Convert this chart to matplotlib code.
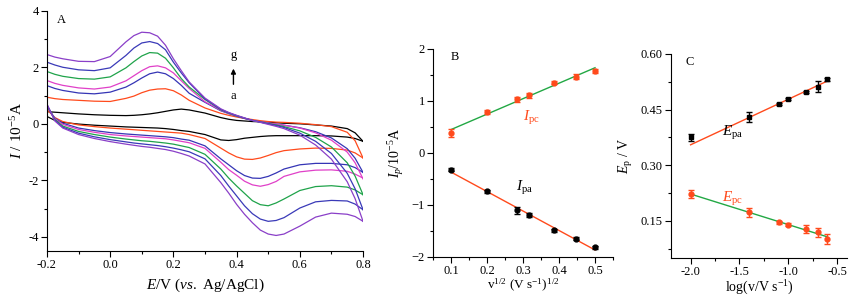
import numpy as np
import matplotlib
matplotlib.use("Agg")
import matplotlib.pyplot as plt
from matplotlib.ticker import MultipleLocator

plt.rcParams['font.family'] = ['Liberation Serif', 'DejaVu Serif']
plt.rcParams['mathtext.fontset'] = 'custom'
plt.rcParams['mathtext.rm'] = 'Liberation Serif'
plt.rcParams['mathtext.it'] = 'Liberation Serif:italic'

# ---------------- Panel A: cyclic voltammograms (a..g) ----------------
E = [-0.200, -0.175, -0.150, -0.100, -0.050, 0.000, 0.050, 0.075, 0.100, 0.125, 0.150,
     0.175, 0.200, 0.225, 0.250, 0.300, 0.350, 0.375, 0.400, 0.425, 0.450, 0.475,
     0.500, 0.525, 0.550, 0.600, 0.650, 0.700, 0.750, 0.775, 0.800]
curve_names = ['a', 'b', 'c', 'd', 'e', 'f', 'g']
curve_colors = ['#000000', '#ff4a1c', '#3535b5', '#e040c8', '#1fa34a', '#3a3ab8', '#8a3fc8']

up_a = [0.43, 0.41, 0.39, 0.35, 0.32, 0.30, 0.29, 0.30, 0.32, 0.35, 0.39, 0.44, 0.49, 0.52, 0.49, 0.38, 0.22, 0.16, 0.12, 0.10, 0.08, 0.07,
        0.05, 0.04, 0.02, 0.00, -0.04, -0.08, -0.17, -0.32, -0.62]
up_b = [0.94, 0.89, 0.86, 0.83, 0.80, 0.79, 0.90, 0.98, 1.10, 1.19, 1.23, 1.24, 1.17, 1.02, 0.83, 0.56, 0.37, 0.30, 0.24, 0.19, 0.15, 0.11,
        0.08, 0.06, 0.05, 0.02, -0.03, -0.10, -0.30, -0.60, -1.21]
up_c = [1.35, 1.25, 1.18, 1.09, 1.06, 1.12, 1.30, 1.45, 1.62, 1.77, 1.83, 1.77, 1.60, 1.36, 1.08, 0.76, 0.46, 0.36, 0.27, 0.19, 0.12, 0.07,
        0.03, -0.01, -0.05, -0.14, -0.28, -0.50, -0.88, -1.22, -1.72]
up_d = [1.53, 1.43, 1.36, 1.27, 1.23, 1.30, 1.52, 1.70, 1.88, 2.02, 2.05, 1.98, 1.80, 1.52, 1.25, 0.78, 0.48, 0.37, 0.28, 0.19, 0.12, 0.07,
        0.03, -0.01, -0.05, -0.15, -0.32, -0.58, -1.00, -1.38, -1.95]
up_e = [1.85, 1.75, 1.68, 1.60, 1.58, 1.66, 1.98, 2.20, 2.40, 2.52, 2.50, 2.32, 1.98, 1.60, 1.30, 0.86, 0.50, 0.38, 0.28, 0.20, 0.12, 0.06,
        0.01, -0.04, -0.10, -0.25, -0.48, -0.82, -1.38, -1.85, -2.51]
up_f = [2.18, 2.08, 2.00, 1.91, 1.88, 1.98, 2.42, 2.68, 2.86, 2.91, 2.84, 2.62, 2.18, 1.80, 1.45, 0.88, 0.51, 0.39, 0.29, 0.20, 0.12, 0.06,
        0.00, -0.06, -0.13, -0.33, -0.62, -1.05, -1.75, -2.30, -3.04]
up_g = [2.45, 2.36, 2.30, 2.21, 2.20, 2.38, 2.90, 3.12, 3.24, 3.22, 3.10, 2.78, 2.30, 1.88, 1.48, 0.91, 0.53, 0.40, 0.30, 0.21, 0.12, 0.05,
        -0.02, -0.09, -0.17, -0.40, -0.75, -1.25, -2.05, -2.65, -3.45]

lo_a = [0.26, 0.12, 0.05, -0.01, -0.05, -0.08, -0.11, -0.12, -0.13, -0.14, -0.15, -0.17, -0.20, -0.24, -0.27, -0.38, -0.57, -0.59, -0.56, -0.51, -0.48, -0.45,
        -0.43, -0.42, -0.42, -0.42, -0.42, -0.43, -0.47, -0.52, -0.62]
lo_b = [0.50, 0.22, 0.08, -0.04, -0.10, -0.15, -0.19, -0.21, -0.23, -0.25, -0.27, -0.29, -0.31, -0.33, -0.38, -0.52, -0.86, -1.03, -1.17, -1.25, -1.26, -1.21,
        -1.12, -1.02, -0.95, -0.89, -0.86, -0.87, -0.93, -1.03, -1.21]
lo_c = [0.60, 0.20, 0.02, -0.15, -0.24, -0.31, -0.36, -0.38, -0.40, -0.42, -0.44, -0.46, -0.49, -0.54, -0.58, -0.78, -1.24, -1.45, -1.66, -1.83, -1.92, -1.93,
        -1.86, -1.74, -1.60, -1.45, -1.40, -1.40, -1.45, -1.55, -1.72]
lo_d = [0.62, 0.18, -0.02, -0.20, -0.30, -0.38, -0.43, -0.45, -0.47, -0.49, -0.51, -0.53, -0.57, -0.62, -0.67, -0.87, -1.36, -1.62, -1.82, -2.03, -2.16, -2.21,
        -2.15, -2.04, -1.86, -1.70, -1.64, -1.63, -1.68, -1.78, -1.92]
lo_e = [0.65, 0.15, -0.08, -0.27, -0.38, -0.47, -0.54, -0.57, -0.60, -0.62, -0.65, -0.68, -0.72, -0.78, -0.84, -1.08, -1.60, -1.92, -2.20, -2.46, -2.72, -2.86,
        -2.90, -2.80, -2.66, -2.36, -2.22, -2.19, -2.24, -2.34, -2.51]
lo_f = [0.68, 0.12, -0.12, -0.33, -0.46, -0.56, -0.64, -0.68, -0.71, -0.74, -0.77, -0.81, -0.86, -0.92, -0.99, -1.24, -1.83, -2.20, -2.55, -2.90, -3.18, -3.37,
        -3.45, -3.42, -3.32, -2.98, -2.76, -2.71, -2.73, -2.84, -3.04]
lo_g = [0.70, 0.10, -0.15, -0.38, -0.52, -0.63, -0.72, -0.76, -0.80, -0.83, -0.87, -0.91, -0.97, -1.05, -1.14, -1.42, -2.08, -2.45, -2.85, -3.20, -3.50, -3.76,
        -3.90, -3.95, -3.90, -3.62, -3.30, -3.16, -3.20, -3.28, -3.45]

upper = [up_a, up_b, up_c, up_d, up_e, up_f, up_g]
lower = [lo_a, lo_b, lo_c, lo_d, lo_e, lo_f, lo_g]

# ---------------- Panel B: peak current vs sqrt(scan rate) ----------------
sqrt_v = [0.100, 0.200, 0.283, 0.316, 0.387, 0.447, 0.500]
I_pc = [0.38, 0.79, 1.03, 1.11, 1.35, 1.47, 1.58]
I_pc_err = [0.08, 0.04, 0.05, 0.05, 0.03, 0.04, 0.04]
I_pa = [-0.32, -0.74, -1.10, -1.20, -1.49, -1.65, -1.81]
I_pa_err = [0.03, 0.03, 0.07, 0.04, 0.03, 0.03, 0.03]

# ---------------- Panel C: peak potential vs log(scan rate) ----------------
log_v = [-2.000, -1.398, -1.097, -1.000, -0.824, -0.699, -0.602]
E_pa = [0.375, 0.431, 0.465, 0.478, 0.497, 0.512, 0.532]
E_pa_err = [0.010, 0.013, 0.003, 0.003, 0.003, 0.015, 0.004]
E_pc = [0.222, 0.173, 0.147, 0.140, 0.128, 0.119, 0.102]
E_pc_err = [0.010, 0.012, 0.004, 0.004, 0.010, 0.013, 0.014]

RED = '#ff4a1c'
GREEN = '#22a844'

fig = plt.figure(figsize=(8.57, 2.98), dpi=100)

def style(ax):
    for s in ['top', 'right']:
        ax.spines[s].set_visible(False)
    ax.tick_params(which='major', direction='out', length=4, width=0.8, labelsize=9, pad=2)
    ax.tick_params(which='minor', direction='out', length=2.5, width=0.8)

# Panel A
axA = fig.add_axes([0.0548, 0.1577, 0.3688, 0.8063])
for up, lo, c in zip(upper, lower, curve_colors):
    axA.plot(E, up, color=c, lw=0.9)
    axA.plot(E, lo, color=c, lw=0.9)
axA.set_xlim(-0.2, 0.8)
axA.set_ylim(-4.5, 4)
axA.xaxis.set_minor_locator(MultipleLocator(0.1))
axA.yaxis.set_minor_locator(MultipleLocator(1))
axA.set_xticks([-0.2, 0.0, 0.2, 0.4, 0.6, 0.8])
axA.set_xticklabels(['-0.2', '0.0', '0.2', '0.4', '0.6', '0.8'])
axA.set_yticks([-4, -2, 0, 2, 4])
axA.set_yticklabels(['-4', '-2', '0', '2', '4'])
style(axA)
axA.set_xlabel(r'$\mathit{E}$/V ($\mathit{vs.}$ Ag/AgCl)', fontsize=11, labelpad=4)
axA.set_ylabel(r'$\mathit{I}$ / 10$^{-5}$A', fontsize=11, labelpad=2)
axA.text(0.03, 0.985, 'A', transform=axA.transAxes, fontsize=9, va='top')
axA.text(0.39, 2.45, curve_names[-1], fontsize=9, ha='center', va='center')
axA.text(0.39, 1.0, curve_names[0], fontsize=9, ha='center', va='center')
axA.annotate('', xy=(0.39, 2.05), xytext=(0.39, 1.3),
             arrowprops=dict(arrowstyle='-|>', color='black', lw=1, mutation_scale=7))

# Panel B
axB = fig.add_axes([0.5053, 0.1376, 0.2100, 0.6980])
b_all = np.polyfit(sqrt_v, I_pc, 1)
a_all = np.polyfit(sqrt_v, I_pa, 1)
xs = np.array([sqrt_v[0], sqrt_v[-1]])
axB.plot(xs, np.polyval(b_all, xs), color=GREEN, lw=1)
axB.plot(xs, np.polyval(a_all, xs), color=RED, lw=1)
axB.errorbar(sqrt_v, I_pc, yerr=I_pc_err, fmt='o', color=RED, ms=3.5, capsize=2.5, elinewidth=1)
axB.errorbar(sqrt_v, I_pa, yerr=I_pa_err, fmt='o', color='black', ms=3.5, capsize=2.5, elinewidth=1)
axB.set_xlim(0.05, 0.55)
axB.set_ylim(-2, 2)
axB.xaxis.set_minor_locator(MultipleLocator(0.05))
axB.yaxis.set_major_locator(MultipleLocator(1))
axB.yaxis.set_minor_locator(MultipleLocator(0.5))
axB.set_xticks([0.1, 0.2, 0.3, 0.4, 0.5])
style(axB)
axB.set_xlabel(r'v$^{1/2}$ (V s$^{-1}$)$^{1/2}$', fontsize=9.5, labelpad=0)
axB.set_ylabel(r'$\mathit{I}_{p}$/10$^{-5}$A', fontsize=10, labelpad=4)
axB.text(0.1, 1.97, 'B', fontsize=9, va='top')
axB.text(0.30, 0.62, r'$\mathit{I}_{\mathrm{pc}}$', color=RED, fontsize=11)
axB.text(0.28, -0.72, r'$\mathit{I}_{\mathrm{pa}}$', color='black', fontsize=11)

# Panel C
axC = fig.add_axes([0.7830, 0.1342, 0.2053, 0.6846])
fit_pa = np.polyfit(log_v[1:], E_pa[1:], 1)
fit_pc = np.polyfit(log_v, E_pc, 1)
xc = np.array([log_v[0], log_v[-1]])
axC.plot(xc, np.polyval(fit_pa, xc), color=RED, lw=1)
axC.plot(xc, np.polyval(fit_pc, xc), color=GREEN, lw=1)
axC.errorbar(log_v, E_pa, yerr=E_pa_err, fmt='s', color='black', ms=3.2, capsize=2.5, elinewidth=1)
axC.errorbar(log_v, E_pc, yerr=E_pc_err, fmt='o', color=RED, ms=3.5, capsize=2.5, elinewidth=1)
axC.set_xlim(-2.2, -0.4)
axC.set_ylim(0.05, 0.60)
axC.set_xticks([-2.0, -1.5, -1.0, -0.5])
axC.set_xticklabels(['-2.0', '-1.5', '-1.0', '-0.5'])
axC.xaxis.set_minor_locator(MultipleLocator(0.25))
axC.set_yticks([0.15, 0.30, 0.45, 0.60])
axC.set_yticklabels(['0.15', '0.30', '0.45', '0.60'])
axC.yaxis.set_minor_locator(MultipleLocator(0.075))
style(axC)
axC.set_xlabel(r'log(v/V s$^{-1}$)', fontsize=10, labelpad=0)
axC.set_ylabel(r'$\mathit{E}_{\mathrm{p}}$ / V', fontsize=10, labelpad=4)
axC.text(-2.05, 0.595, 'C', fontsize=9, va='top')
axC.text(-1.68, 0.38, r'$\mathit{E}_{\mathrm{pa}}$', color='black', fontsize=11)
axC.text(-1.68, 0.20, r'$\mathit{E}_{\mathrm{pc}}$', color=RED, fontsize=11)

fig.savefig('out.png', dpi=100)
